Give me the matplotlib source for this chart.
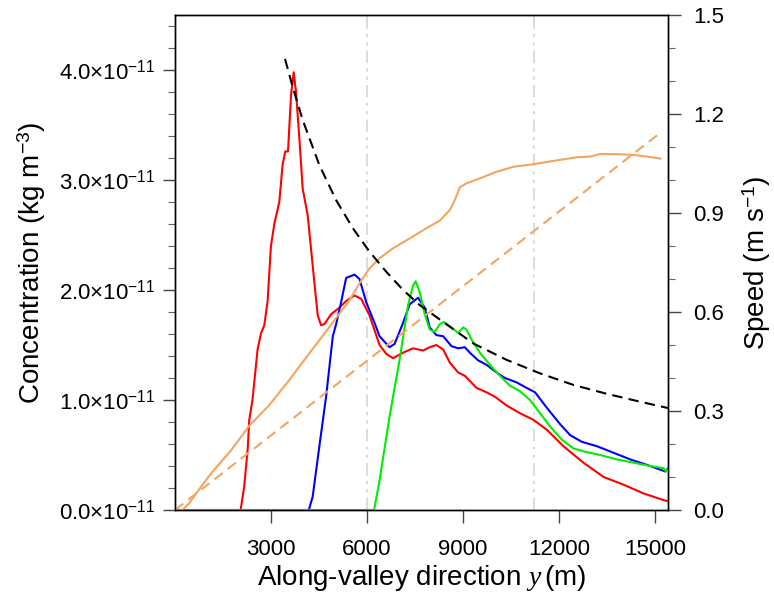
import numpy as np
import matplotlib
matplotlib.use("Agg")
import matplotlib.pyplot as plt
from matplotlib.ticker import FixedLocator, FuncFormatter

plt.rcParams['font.family'] = ['Liberation Sans', 'DejaVu Sans']
plt.rcParams['mathtext.fontset'] = 'custom'
plt.rcParams['mathtext.rm'] = 'Liberation Sans'
plt.rcParams['mathtext.it'] = 'Liberation Serif:italic'

# concentration profiles (kg m-3, in units of 1e-11)
red_y = [0, 2050, 2160, 2270, 2320, 2420, 2580, 2690, 2790, 2893, 2997, 3102, 3258,
         3362, 3446, 3530, 3624, 3707, 3781, 3885, 3989, 4145, 4302, 4458, 4563,
         4667, 4877, 5137, 5346, 5608, 5816, 6076, 6390, 6600, 6810, 7123, 7436,
         7750, 7958, 8167, 8376, 8585, 8846, 9055, 9420, 9733, 9994, 10360, 10778,
         11196, 11614, 12136, 12762, 13389, 14015, 14642, 15268, 15400]
red_c = [0, 0, 0.21, 0.55, 0.82, 1.00, 1.46, 1.61, 1.68, 1.90, 2.40, 2.60, 2.80,
         3.14, 3.26, 3.26, 3.77, 3.98, 3.80, 3.38, 2.92, 2.68, 2.22, 1.77, 1.68,
         1.69, 1.78, 1.84, 1.90, 1.95, 1.92, 1.77, 1.50, 1.42, 1.38, 1.43, 1.47,
         1.45, 1.48, 1.50, 1.46, 1.34, 1.25, 1.22, 1.11, 1.07, 1.03, 0.95, 0.88,
         0.82, 0.73, 0.58, 0.43, 0.30, 0.23, 0.15, 0.09, 0.08]

blue_y = [0, 4180, 4300, 4510, 4720, 4930, 5034, 5190, 5346, 5608, 5764, 5973, 6235,
          6390, 6703, 6860, 7123, 7332, 7593, 7802, 7958, 8167, 8376, 8637, 8846,
          9055, 9211, 9472, 9733, 10047, 10307, 10673, 10986, 11248, 11614, 12032,
          12345, 12711, 13180, 13702, 14224, 14746, 15320, 15400]
blue_c = [0, 0, 0.12, 0.58, 1.03, 1.58, 1.69, 1.89, 2.11, 2.14, 2.10, 1.89, 1.70,
          1.58, 1.48, 1.51, 1.70, 1.87, 1.93, 1.84, 1.66, 1.59, 1.58, 1.49, 1.47,
          1.48, 1.43, 1.36, 1.32, 1.25, 1.20, 1.16, 1.11, 1.07, 0.93, 0.78,
          0.68, 0.62, 0.58, 0.52, 0.46, 0.41, 0.35, 0.38]

green_y = [0, 6220, 6390, 6703, 7018, 7279, 7436, 7520, 7645, 7802, 7958, 8115, 8272,
           8397, 8585, 8846, 9002, 9107, 9263, 9524, 9838, 10151, 10464, 10778,
           11091, 11405, 11718, 12084, 12449, 12815, 13284, 13806, 14328, 14850,
           15268, 15341, 15400]
green_c = [0, 0, 0.27, 0.85, 1.37, 1.86, 2.04, 2.08, 1.98, 1.78, 1.64, 1.62, 1.69,
           1.71, 1.67, 1.61, 1.66, 1.64, 1.55, 1.43, 1.32, 1.22, 1.13, 1.08,
           1.00, 0.88, 0.76, 0.64, 0.56, 0.53, 0.50, 0.46, 0.43, 0.40,
           0.38, 0.35, 0.38]

# speed profiles (m s-1)
spd_y = [230, 439, 855, 1169, 1745, 2318, 2945, 3571, 4198, 4825, 5452, 5764, 6076,
         6390, 6808, 7332, 7854, 8272, 8585, 8741, 8898, 9107, 9524, 10047, 10569,
         11196, 11823, 12554, 12971, 13284, 13910, 14328, 14746, 15164]
spd_u = [0, 0.02, 0.076, 0.116, 0.18, 0.255, 0.318, 0.394, 0.475, 0.555, 0.636,
         0.687, 0.732, 0.763, 0.793, 0.823, 0.854, 0.877, 0.909, 0.939, 0.978,
         0.990, 1.005, 1.025, 1.040, 1.048, 1.058, 1.069, 1.071, 1.079, 1.078,
         1.076, 1.071, 1.065]

lin_y = [0, 15160]
lin_u = [0, 1.143]

dec_y = [3436, 3675, 3988, 4511, 5034, 5556, 6076, 6600, 7123, 7645, 8220, 9315,
         10360, 11405, 12449, 13493, 14537, 15400]
dec_u = [1.367, 1.283, 1.182, 1.045, 0.939, 0.854, 0.783, 0.722, 0.667, 0.621,
         0.581, 0.505, 0.455, 0.414, 0.379, 0.352, 0.328, 0.309]

ref_lines = [6000, 11200]

x_ticks = [3000, 6000, 9000, 12000, 15000]
conc_ticks = [0, 1e-11, 2e-11, 3e-11, 4e-11]
conc_minor = [v * 0.2e-11 for v in range(23) if v % 5]
spd_ticks = [0, 0.3, 0.6, 0.9, 1.2, 1.5]
spd_minor = [v * 0.1 for v in range(16) if v % 3]

fig = plt.figure(figsize=(7.74, 6.01), dpi=100)
ax = fig.add_axes([0.2261, 0.1514, 0.8630 - 0.2261, 0.975 - 0.1514])
ax2 = ax.twinx()

for yv in ref_lines:
    ax.axvline(yv, color='#dcdcdc', lw=1.5, dashes=(6, 2.5, 1.5, 2.5, 1.5, 2.5), zorder=1)

sc = 1e-11
ax.plot(red_y, np.array(red_c) * sc, color='#ff0000', lw=1.5, zorder=3)
ax.plot(blue_y, np.array(blue_c) * sc, color='#0000ff', lw=1.5, zorder=3)
ax.plot(green_y, np.array(green_c) * sc, color='#00ee00', lw=1.5, zorder=3)

orange = '#f4a460'
ax2.plot(spd_y, spd_u, color=orange, lw=1.5)
ax2.plot(lin_y, lin_u, color=orange, lw=1.5, dashes=(5, 3))
ax2.plot(dec_y, dec_u, color='black', lw=1.5, dashes=(5, 3))

ax.set_xlim(0, 15400)
ax.set_ylim(0, 4.5e-11)
ax2.set_ylim(0, 1.5)

ax.xaxis.set_major_locator(FixedLocator(x_ticks))
ax.yaxis.set_major_locator(FixedLocator(conc_ticks))
ax.yaxis.set_minor_locator(FixedLocator(conc_minor))
ax.yaxis.set_major_formatter(FuncFormatter(
    lambda v, p: f"{v / 1e-11:.1f}" + r"$\times$10$^{-11}$"))
ax2.yaxis.set_major_locator(FixedLocator(spd_ticks))
ax2.yaxis.set_minor_locator(FixedLocator(spd_minor))
ax2.yaxis.set_major_formatter(FuncFormatter(lambda v, p: f"{v:.1f}"))

for a in (ax, ax2):
    a.tick_params(which='major', direction='out', length=9, width=1, color='#444444',
                  labelsize=16, pad=5)
    a.tick_params(which='minor', direction='out', length=5, width=0.8, color='#666666')
    for s in a.spines.values():
        s.set_linewidth(1.0)
ax.tick_params(axis='y', which='both', right=False)
ax.tick_params(axis='x', top=False, pad=12)
ax2.tick_params(axis='y', pad=9)

ax.set_xlabel(r"Along-valley direction $y\,$(m)", fontsize=20, labelpad=2)
ax.set_ylabel(r"Concentration (kg m$^{-3}$)", fontsize=20, labelpad=8)
ax2.set_ylabel(r"Speed (m s$^{-1}$)", fontsize=20, labelpad=12)

fig.savefig("out.png", dpi=100)
